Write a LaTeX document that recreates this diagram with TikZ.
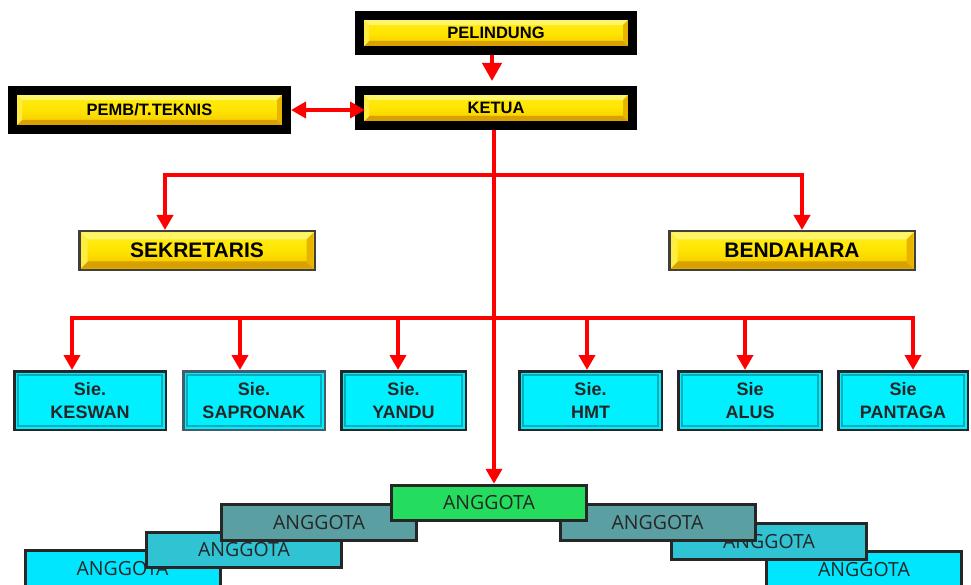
\documentclass[tikz,border=0pt]{standalone}
\usepackage{fontspec}
\setmainfont{Liberation Sans}
\newfontfamily\angfont{Open Sans}
\usetikzlibrary{arrows.meta,calc}
\definecolor{rd}{HTML}{FF0000}
\definecolor{ylwT}{HTML}{FFEF20}
\definecolor{ylwM}{HTML}{FFE400}
\definecolor{ylwB}{HTML}{F0C000}
\definecolor{bvTop}{HTML}{FFF56A}
\definecolor{bvLeft}{HTML}{FFEC40}
\definecolor{bvRight}{HTML}{E8B400}
\definecolor{bvBot}{HTML}{D8A000}
\definecolor{sieC}{HTML}{00F0FF}
\definecolor{sieD}{HTML}{00AEBE}
\definecolor{sapB}{HTML}{4A5A6A}
\definecolor{angG}{HTML}{24DC5E}
\definecolor{angT}{HTML}{5A9FA2}
\definecolor{angM}{HTML}{30C3D3}
\definecolor{angC}{HTML}{00E6FF}
\begin{document}
\begin{tikzpicture}[x=1pt,y=-1pt,
  bevel/.style 2 args={path picture={
     \coordinate (bnw) at ([shift={(#1,-#1)}]path picture bounding box.north west);
     \coordinate (bne) at ([shift={(-#1,-#1)}]path picture bounding box.north east);
     \coordinate (bsw) at ([shift={(#1,#1)}]path picture bounding box.south west);
     \coordinate (bse) at ([shift={(-#1,#1)}]path picture bounding box.south east);
     \coordinate (inw) at ([shift={(#2,-#2)}]bnw);
     \coordinate (ine) at ([shift={(-#2,-#2)}]bne);
     \coordinate (isw) at ([shift={(#2,#2)}]bsw);
     \coordinate (ise) at ([shift={(-#2,#2)}]bse);
     \fill[bvTop] (bnw) -- (bne) -- (ine) -- (inw) -- cycle;
     \fill[bvBot] (bsw) -- (bse) -- (ise) -- (isw) -- cycle;
     \fill[bvLeft] (bnw) -- (inw) -- (isw) -- (bsw) -- cycle;
     \fill[bvRight] (bne) -- (ine) -- (ise) -- (bse) -- cycle;}},
  topbox/.style={draw=black, line width=9pt, top color=ylwT, bottom color=ylwB, middle color=ylwM,
     bevel={4.5pt}{5pt},
     inner sep=0pt, minimum width=#1, minimum height=35, font=\bfseries\fontsize{16.5}{20}\selectfont},
  midbox/.style={draw=black!75, line width=2.5pt, top color=ylwT, bottom color=ylwB, middle color=ylwM,
     bevel={1.25pt}{7pt},
     inner sep=0pt, minimum height=38.5, font=\bfseries\fontsize{21}{24}\selectfont},
  siebox/.style={draw=black!85, line width=2.5pt, fill=sieC, inner sep=0pt, minimum height=58.5,
     align=center, text=black!85, font=\bfseries\fontsize{18}{23}\selectfont,
     path picture={\draw[line width=2pt, sieD]
        ([shift={(3.5pt,-3.5pt)}]path picture bounding box.north west) rectangle
        ([shift={(-3.5pt,3.5pt)}]path picture bounding box.south east);}},
  angbox/.style={draw=black!85, line width=3pt, fill=#1, inner sep=0pt, minimum width=195,
     minimum height=35.5, text=black!85, font=\angfont\fontsize{19.5}{22}\selectfont},
  rl/.style={draw=rd, line width=4pt},
  arr/.style={rl, -{Triangle[width=16pt,length=15pt]}},
  dbl/.style={rl, {Triangle[width=16pt,length=15pt]}-{Triangle[width=16pt,length=15pt]}}
]
\useasboundingbox (0,0) rectangle (971,585);

% top boxes
\node[topbox=273] (pel) at (496,33) {PELINDUNG};
\node[topbox=273] (ket) at (496,108) {KETUA};
\node[topbox=274, minimum height=39] (pemb) at (149.5,110) {PEMB/T.TEKNIS};

\node[midbox, minimum width=235.5] (sek) at (197,250.5) {SEKRETARIS};
\node[midbox, minimum width=245.5] (ben) at (792,250.5) {BENDAHARA};

% sie boxes
\node[siebox, minimum width=151.5] (s1) at (90,400.5) {Sie.\\KESWAN};
\node[siebox, minimum width=141.5, draw=sapB] (s2) at (254,400.5) {Sie.\\SAPRONAK};
\node[siebox, minimum width=124.5] (s3) at (403.5,400.5) {Sie.\\YANDU};
\node[siebox, minimum width=142.5] (s4) at (590.5,400.5) {Sie.\\HMT};
\node[siebox, minimum width=143.5] (s5) at (750,400.5) {Sie\\ALUS};
\node[siebox, minimum width=129.5] (s6) at (903,400.5) {Sie\\PANTAGA};

% arrows top
\draw[rl, -{Triangle[width=19pt,length=18pt]}, shorten >=5pt] ([xshift=-4pt]pel.south) -- ([xshift=-4pt]ket.north);
\draw[dbl, shorten >=-10pt] (pemb.east) -- (pemb.east -| ket.west);

% sekretaris / bendahara branch
\coordinate (sekin) at ([xshift=-32pt]sek.north);
\coordinate (benin) at ([xshift=10pt]ben.north);
\draw[dbl] (sekin) -- (sekin |- 0,175) -- (benin |- 0,175) -- (benin);

% sie branch
\coordinate (c1) at ([xshift=-18pt]s1.north);
\coordinate (c2) at ([xshift=-14pt]s2.north);
\coordinate (c3) at ([xshift=-5.5pt]s3.north);
\coordinate (c4) at ([xshift=-3.5pt]s4.north);
\coordinate (c5) at ([xshift=-5pt]s5.north);
\coordinate (c6) at ([xshift=10pt]s6.north);
\draw[dbl] (c1) -- (c1 |- 0,318) -- (c6 |- 0,318) -- (c6);
\foreach \c in {c2,c3,c4,c5} \draw[arr] (\c |- 0,318) -- (\c);

% anggota boxes
\node[angbox=angC] (a1) at (122.5,568.5) {ANGGOTA};
\node[angbox=angM] (a2) at (244,550) {ANGGOTA};
\node[angbox=angT] (a3) at (319,522.5) {ANGGOTA};
\node[angbox=angC] (a4) at (864,569.5) {ANGGOTA};
\node[angbox=angM] (a5) at (769,541.5) {ANGGOTA};
\node[angbox=angT] (a6) at (657.5,522.5) {ANGGOTA};
\node[angbox=angG] (g) at (489,503) {ANGGOTA};

% trunk
\draw[arr] ([xshift=-2pt]ket.south) -- ([xshift=-2pt]ket.south |- g.north);
\end{tikzpicture}
\end{document}
